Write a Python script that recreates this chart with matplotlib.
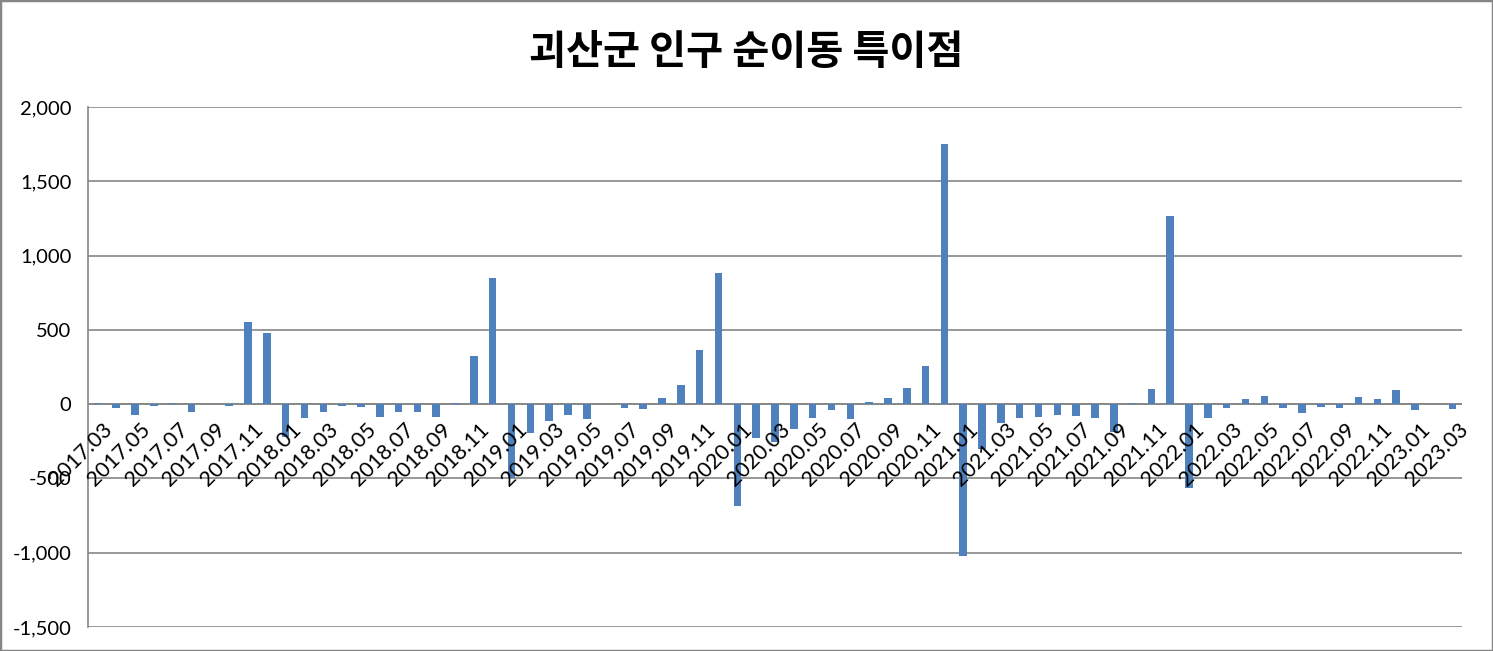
import matplotlib
matplotlib.use("Agg")
import matplotlib.pyplot as plt
import matplotlib.transforms as mtransforms
from matplotlib.patches import Rectangle
from matplotlib.ticker import FuncFormatter, MultipleLocator

plt.rcParams['font.family'] = ['Lato', 'DejaVu Sans']

title = "괴산군 인구 순이동 특이점"

# months 2017.03 .. 2023.03
months = []
y, m = 2017, 3
while (y, m) <= (2023, 3):
    months.append(f"{y}.{m:02d}")
    m += 1
    if m > 12:
        y, m = y + 1, 1

values = [
    8, -25, -72, -10, 7, -52, 0, -10, 550, 480,            # 2017.03-2017.12
    -221, -92, -52, -10, -18, -86, -52, -52, -86, 7, 326, 848,   # 2018
    -500, -195, -113, -72, -100, 0, -25, -32, 43, 129, 367, 882,  # 2019
    -683, -228, -256, -167, -93, -38, -99, 14, 41, 108, 257, 1750,  # 2020
    -1020, -304, -126, -92, -86, -72, -79, -92, -187, 7, 101, 1268,  # 2021
    -563, -92, -25, 34, 54, -25, -59, -18, -25, 47, 34, 95,  # 2022
    -38, 0, -32,  # 2023.01-03
]

W, H = 1493, 651
fig = plt.figure(figsize=(W / 100, H / 100), dpi=100)
ax = fig.add_axes([88 / W, 1 - 627 / H, (1462 - 88) / W, (627 - 107) / H])

x = list(range(len(months)))
ax.bar(x, values, width=0.4, color='#4F81BD', zorder=3)

ax.set_xlim(-0.5, len(months) - 0.5)
ax.set_ylim(-1500, 2000)
ax.yaxis.set_major_locator(MultipleLocator(500))
ax.yaxis.set_major_formatter(FuncFormatter(lambda v, p: f"{int(v):,}"))
ax.grid(axis='y', color='#868686', linewidth=1.2, zorder=0)
ax.axhline(0, color='#868686', linewidth=1.2, zorder=2)
ax.set_xticks([])
for s in ['top', 'right', 'bottom']:
    ax.spines[s].set_visible(False)
ax.spines['left'].set_color('#868686')
ax.spines['left'].set_linewidth(1.2)
ax.tick_params(axis='y', length=0, pad=12, labelsize=14.5, labelcolor='black')

offset = mtransforms.ScaledTranslation(5 / 100, -15 / 100, fig.dpi_scale_trans)
trans = ax.transData + offset
for i in range(0, len(months), 2):
    ax.text(i, 0, months[i], transform=trans, rotation=45,
            rotation_mode='anchor', ha='right', va='top',
            fontsize=15.5, color='black', zorder=4)

fig.text(0.5, 1 - 53 / H, title, ha='center', va='center',
         fontsize=29, fontweight='bold',
         family=['Noto Sans CJK KR', 'DejaVu Sans'])

fig.patches.append(Rectangle((0, 0), 1, 1, transform=fig.transFigure,
                             fill=False, edgecolor='#868686', linewidth=2.5))

fig.savefig('out.png', dpi=100)
